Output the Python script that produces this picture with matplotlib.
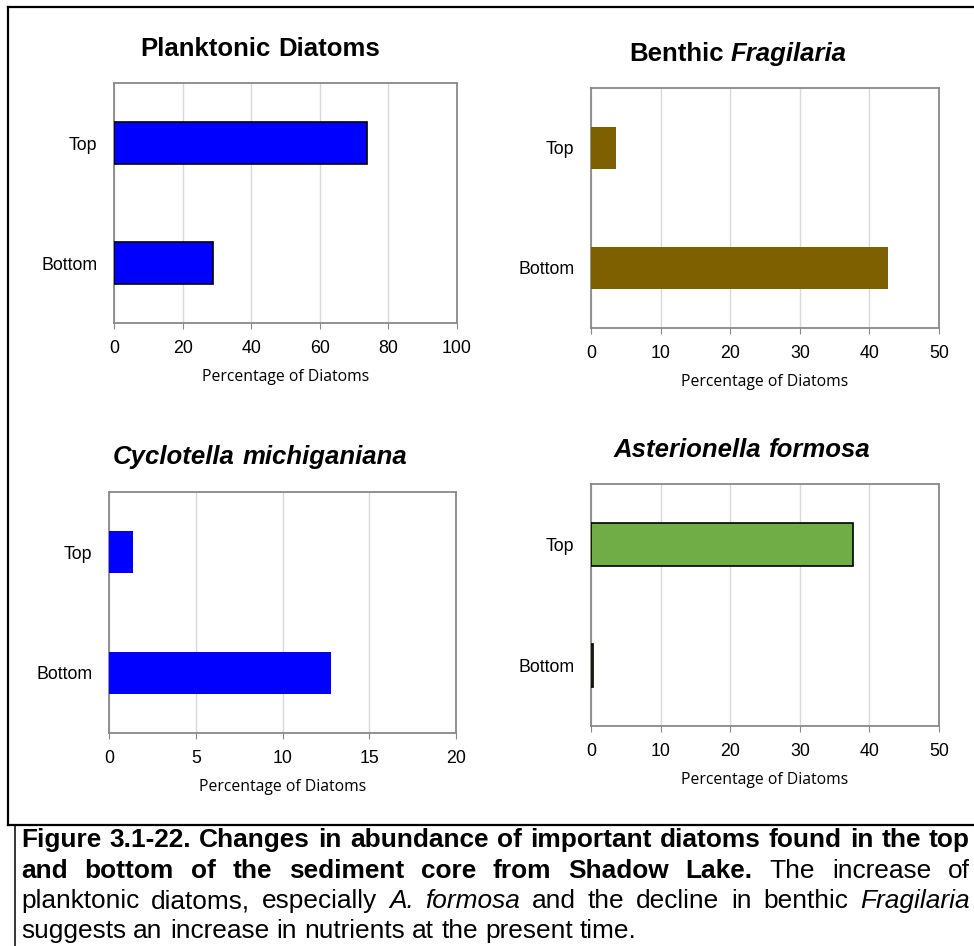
import matplotlib.pyplot as plt
from matplotlib.lines import Line2D

plt.rcParams['font.family'] = ['Liberation Sans', 'DejaVu Sans']

# data
categories = ['Bottom', 'Top']
planktonic = [28.9, 73.8]
benthic_fragilaria = [42.7, 3.6]
cyclotella = [12.8, 1.4]
asterionella = [0.3, 37.6]

W, H = 974, 946
fig = plt.figure(figsize=(W / 100, H / 100), dpi=100)
renderer = fig.canvas.get_renderer()

CAP_FONT = ['Liberation Sans']


def px_axes(left, top, right, bottom):
    return fig.add_axes([left / W, 1 - bottom / H, (right - left) / W, (bottom - top) / H])


def measure(txt, **kw):
    t = fig.text(0, 0, txt, **kw)
    w = t.get_window_extent(renderer).width
    t.remove()
    return w


def rich_line(pieces, x, y, size, family, mode='center', width=None):
    # pieces: list of (text, weight, style); x,y in pixels from top-left
    widths = [measure(p[0], fontsize=size, fontweight=p[1], fontstyle=p[2], family=family)
              for p in pieces]
    space = measure('a a', fontsize=size, family=family) - measure('aa', fontsize=size, family=family)
    if mode == 'justify':
        gap = (width - sum(widths)) / (len(pieces) - 1)
        cx = x
    else:
        gap = space
        total = sum(widths) + gap * (len(pieces) - 1)
        cx = x - total / 2 if mode == 'center' else x
    for (txt, weight, style), w in zip(pieces, widths):
        fig.text(cx / W, 1 - y / H, txt, fontsize=size, fontweight=weight, fontstyle=style,
                 family=family, va='baseline', ha='left')
        cx += w + gap


def bar_panel(ax, values, color, edge, xmax, step):
    ax.barh(range(len(categories)), values, height=0.35, color=color,
            edgecolor=edge if edge else color, linewidth=1.2 if edge else 0, zorder=3)
    ax.set_xlim(0, xmax)
    ax.set_ylim(-0.5, 1.5)
    ax.set_xticks(range(0, xmax + 1, step))
    ax.set_yticks(range(len(categories)))
    ax.set_yticklabels(categories)
    ax.grid(axis='x', color='#d9d9d9', linewidth=1, zorder=0)
    for s in ax.spines.values():
        s.set_color('#898989')
        s.set_linewidth(1.3)
    ax.tick_params(axis='x', length=4, color='#898989', labelsize=12.8, pad=8)
    ax.tick_params(axis='y', length=0, labelsize=12.8, pad=12)
    ax.set_xlabel('Percentage of Diatoms', fontsize=11.3, family=['Open Sans', 'DejaVu Sans'],
                  labelpad=9)


ax1 = px_axes(114, 83, 457, 323)
bar_panel(ax1, planktonic, '#0000ff', 'black', 100, 20)
ax2 = px_axes(591, 88, 939, 328)
bar_panel(ax2, benthic_fragilaria, '#7f6000', None, 50, 10)
ax3 = px_axes(109, 492, 456, 733)
bar_panel(ax3, cyclotella, '#0000ff', None, 20, 5)
ax4 = px_axes(591, 484, 939, 726)
bar_panel(ax4, asterionella, '#70ad47', 'black', 50, 10)

# panel titles
TSZ = 18.5
rich_line([('Planktonic', 'bold', 'normal'), ('Diatoms', 'bold', 'normal')], 260, 56, TSZ, ['Liberation Sans'])
rich_line([('Benthic', 'bold', 'normal'), ('Fragilaria', 'bold', 'italic')], 738, 61, TSZ, ['Liberation Sans'])
rich_line([('Cyclotella', 'bold', 'italic'), ('michiganiana', 'bold', 'italic')], 260, 464, TSZ, ['Liberation Sans'])
rich_line([('Asterionella', 'bold', 'italic'), ('formosa', 'bold', 'italic')], 742, 457, TSZ, ['Liberation Sans'])

# frame
for xs, ys, lw in [([8, 8], [7, 825], 1.6), ([8, 974], [7, 7], 1.6),
                   ([8, 974], [825, 825], 1.6), ([15, 15], [825, 946], 1.1)]:
    fig.add_artist(Line2D([x / W for x in xs], [1 - y / H for y in ys], color='black',
                          linewidth=lw, transform=fig.transFigure))

# caption
B, N = 'bold', 'normal'
line1 = [(w, B, N) for w in 'Figure 3.1-22. Changes in abundance of important diatoms found in the top'.split()]
line2 = [(w, B, N) for w in 'and bottom of the sediment core from Shadow Lake.'.split()] + \
        [(w, N, N) for w in 'The increase of'.split()]
line3 = [(w, N, N) for w in 'planktonic diatoms, especially'.split()] + \
        [('A.', N, 'italic'), ('formosa', N, 'italic')] + \
        [(w, N, N) for w in 'and the decline in benthic'.split()] + [('Fragilaria', N, 'italic')]
line4_text = 'suggests an increase in nutrients at the present time.'
line4 = [(w, N, N) for w in line4_text.split()]
# size the caption so the last line runs to where it ends in the reference
CSZ = 10 * 619 / measure(line4_text, fontsize=10, family=CAP_FONT)
rich_line(line1, 21, 847, CSZ, CAP_FONT, mode='justify', width=949)
rich_line(line2, 21, 878, CSZ, CAP_FONT, mode='justify', width=949)
rich_line(line3, 21, 908, CSZ, CAP_FONT, mode='justify', width=949)
rich_line(line4, 21, 938, CSZ, CAP_FONT, mode='left')

fig.savefig('out.png', dpi=100)
